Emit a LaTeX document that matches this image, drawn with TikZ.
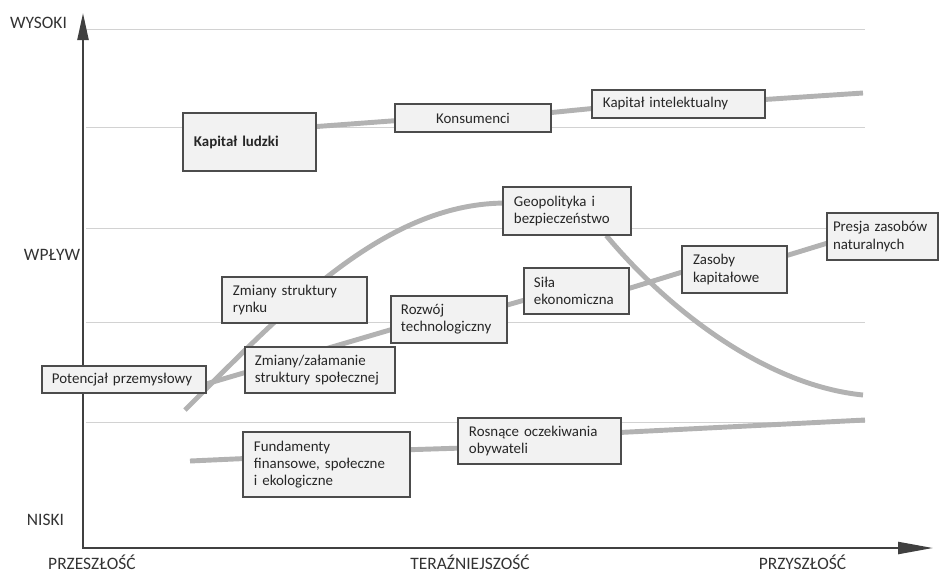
\documentclass[tikz,border=0pt]{standalone}
\usepackage{fontspec}
\setmainfont{Carlito}
\usetikzlibrary{
    arrows.meta,
    backgrounds
}
\newcommand{\boxfont}{\fontsize{10.6}{12.2}\selectfont}
\newcommand{\axisfont}{\fontsize{12.4}{14}\selectfont}

\begin{document}
\begin{tikzpicture}[
        x=0.025cm, y=-0.025cm,
        box/.style={rectangle, draw=black!70, fill=gray!10, line width=0.8pt, inner xsep=0.275cm, inner ysep=2pt, align=left, font=\boxfont, text=black!85},
        trend/.style={draw=gray!60, line width=3.5pt},
        gridline/.style={draw=gray!35, line width=0.5pt},
        axis/.style={draw=black!75, line width=1.6pt},
        lbl/.style={font=\axisfont, text=black!80, inner sep=0pt}
    ]
        \useasboundingbox (0,0) rectangle (939,574);

        % Axes
        \coordinate (o) at (83,548);
        \coordinate (ytip) at (83,13);
        \coordinate (xtip) at (933,548);
        \draw[axis, {Triangle[length=0.675cm, width=0.275cm]}-{Triangle[length=0.875cm, width=0.3cm]}] (ytip) -- (o) -- (xtip);

        \node[lbl] (wysoki) at (38.5,23) {WYSOKI};
        \node[lbl] (wplyw) at (52,255) {WPŁYW};
        \node[lbl] (niski) at (45.5,520) {NISKI};
        \node[lbl] (przeszlosc) at (92,562) {PRZESZŁOŚĆ};
        \node[lbl] (terazn) at (470,562) {TERAŹNIEJSZOŚĆ};
        \node[lbl] (przyszlosc) at (802.5,562) {PRZYSZŁOŚĆ};

        % Top row
        \node[box, text width=2.775cm, minimum height=1.45cm, font=\boxfont\bfseries] (kl) at (249.5,142) {Kapitał ludzki};
        \node[box, text width=3.35cm, minimum height=0.7cm, align=center] (kons) at (473,118) {Konsumenci};
        \node[box, text width=3.775cm, minimum height=0.7cm] (kint) at (678.5,104) {Kapitał intelektualny};

        % Middle
        \node[box, text width=2.65cm, minimum height=1.2cm] (geo) at (567,211) {Geopolityka i\\bezpieczeństwo};
        \node[box, inner xsep=0.15cm, text width=2.475cm, minimum height=1.175cm] (presja) at (882.5,236.5) {Presja zasobów\\naturalnych};
        \node[box, text width=2.075cm, minimum height=1.175cm] (zasoby) at (734.5,269.5) {Zasoby\\kapitałowe};
        \node[box, inner xsep=0.25cm, text width=2.125cm, minimum height=1.15cm] (sila) at (576.5,291) {Siła\\ekonomiczna};
        \node[box, text width=3.075cm, minimum height=1.15cm] (rynek) at (294.5,300) {Zmiany struktury\\rynku};
        \node[box, inner xsep=0.25cm, text width=2.4cm, minimum height=1.175cm] (rozwoj) at (449,319.5) {Rozwój\\technologiczny};
        \node[box, inner xsep=0.25cm, text width=3.25cm, minimum height=1.15cm] (spol) at (320,370) {Zmiany/załamanie\\struktury społecznej};
        \node[box, inner xsep=0.25cm, text width=3.6cm, minimum height=0.675cm] (potencjal) at (124,379.5) {Potencjał przemysłowy};

        % Bottom row
        \node[box, text width=3.625cm, minimum height=1.625cm] (fund) at (326.5,464.5) {Fundamenty\\finansowe, społeczne\\i ekologiczne};
        \node[box, text width=3.525cm, minimum height=1.15cm] (oczek) at (539.5,441) {Rosnące oczekiwania\\obywateli};

        % Free ends
        \coordinate (topend) at (863,93);
        \coordinate (botstart) at (190,461);
        \coordinate (botend) at (865,420);
        \coordinate (risestart) at (185,410);
        \coordinate (fallend) at (863,395);

        \begin{scope}[on background layer]
            % Grid
            \foreach \gy in {29,127,228,322,422}
                \draw[gridline] (86,\gy) -- (865,\gy);

            % Trends
            \draw[trend] (kl.13) -- (kons.182);
            \draw[trend] (kons.4) -- (kint.183);
            \draw[trend] (kint.3) -- (topend);

            \draw[trend] (potencjal.-3) -- (rozwoj.190);
            \draw[trend] (rozwoj.14) -- (sila.190);
            \draw[trend] (sila.3) -- (zasoby.183);
            \draw[trend] (zasoby.15) -- (presja.187);

            \draw[trend] (botstart) -- (fund.176);
            \draw[trend] (fund.10) -- (oczek.185);
            \draw[trend] (oczek.6) -- (botend);

            \draw[trend] (risestart) .. controls (285,310) and (383,205) .. (geo.173);
            \draw[trend] (geo.-32) .. controls (665,306) and (763,385) .. (fallend);
        \end{scope}
    \end{tikzpicture}
\end{document}
